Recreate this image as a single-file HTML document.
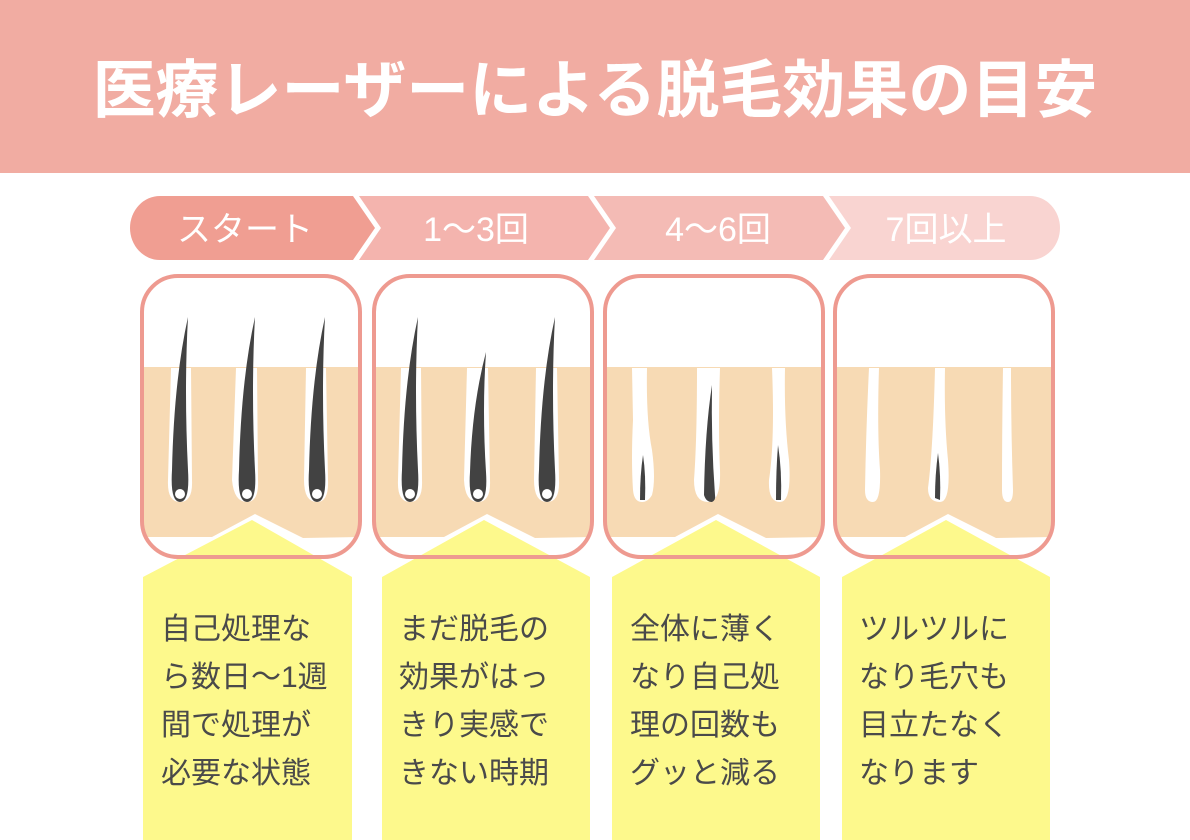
<!DOCTYPE html>
<html><head><meta charset="utf-8"><style>
html,body{margin:0;padding:0;background:#fff;}
svg{display:block;font-family:"Liberation Sans","Noto Sans CJK JP",sans-serif;}
</style></head><body>
<svg width="1190" height="840" viewBox="0 0 1190 840" xmlns="http://www.w3.org/2000/svg">
<defs>
<clipPath id="c1"><rect x="142" y="276" width="218" height="281" rx="36"/></clipPath>
<clipPath id="c2"><rect x="374" y="276" width="218" height="281" rx="36"/></clipPath>
<clipPath id="c3"><rect x="605" y="276" width="218" height="281" rx="36"/></clipPath>
<clipPath id="c4"><rect x="835" y="276" width="218" height="281" rx="36"/></clipPath>
</defs>
<rect x="0" y="0" width="1190" height="173" fill="#F1ACA2"/>
<text x="595" y="112" text-anchor="middle" font-size="63" font-weight="bold" fill="#fff">医療レーザーによる脱毛効果の目安</text>

<!-- steps -->
<path d="M1030,196 L829,196 L851,228 L829,260 L1030,260 A30,32 0 0 0 1030,196 Z" fill="#F9D4D1"/>
<path d="M823,196 L594,196 L616,228 L594,260 L823,260 L845,228 Z" fill="#F4BBB5"/>
<path d="M588,196 L359,196 L381,228 L359,260 L588,260 L610,228 Z" fill="#F4B4AE"/>
<path d="M160,196 L353,196 L375,228 L353,260 L160,260 A30,32 0 0 1 160,196 Z" fill="#F09E92"/>
<g fill="#fff" font-size="34" text-anchor="middle">
<text x="245" y="241">スタート</text>
<text x="476" y="241">1〜3回</text>
<text x="718" y="241">4〜6回</text>
<text x="946" y="241">7回以上</text>
</g>

<!-- yellow -->
<g fill="#FDF98C">
<polygon points="143,577 252,520 352,577 352,840 143,840"/>
<polygon points="382,577 484,520 590,577 590,840 382,840"/>
<polygon points="612,577 716,520 820,577 820,840 612,840"/>
<polygon points="842,577 946,520 1050,577 1050,840 842,840"/>
</g>

<!-- card 1 -->
<g clip-path="url(#c1)">
<polygon points="140,367 362,367 362,537 303,538 255,514 212,537 140,537" fill="#F7DAB4"/>
<g fill="#fff">
<path d="M171,368 L191,368 L192,480 Q193,502 180,502 Q167,502 168,480 Z"/>
<path d="M236,368 L257,368 L258,480 Q259,502 247,502 Q234,502 232,480 Z"/>
<path d="M306,368 L326,368 L328,480 Q329,502 317,502 Q304,502 304,480 Z"/>
</g>
</g>
<!-- card 2 -->
<g clip-path="url(#c2)">
<polygon points="372,367 594,367 594,537 535,538 487,514 444,537 372,537" fill="#F7DAB4"/>
<g fill="#fff">
<path d="M401,368 L421,368 L422,480 Q423,502 410,502 Q397,502 398,480 Z"/>
<path d="M467,368 L488,368 L490,480 Q491,502 478,502 Q465,502 464,480 Z"/>
<path d="M536,368 L557,368 L559,480 Q560,502 547,502 Q534,502 534,480 Z"/>
</g>
</g>
<!-- card 3 -->
<g clip-path="url(#c3)">
<polygon points="603,367 825,367 825,537 766,538 718,514 675,537 603,537" fill="#F7DAB4"/>
<g fill="#fff">
<path d="M632,368 L647,368 Q646,420 652,450 Q656,480 652,495 Q648,502 642,502 Q634,502 633,490 Q631,460 633,420 Z"/>
<path d="M697,368 L720,368 Q718,430 720,470 Q721,502 708,502 Q694,502 694,480 Q697,440 697,368 Z"/>
<path d="M772,368 L785,368 Q784,420 789,460 Q792,502 780,502 Q768,502 769,480 Q775,440 772,368 Z"/>
</g>
</g>
<!-- card 4 -->
<g clip-path="url(#c4)">
<polygon points="833,367 1055,367 1055,537 996,538 948,514 905,537 833,537" fill="#F7DAB4"/>
<g fill="#fff">
<path d="M869,368 L879,368 Q877,430 880,470 Q881,502 873,502 Q865,502 865,490 Q866,430 869,368 Z"/>
<path d="M935,368 L945,368 Q944,420 948,460 Q951,502 940,502 Q928,502 928,488 Q933,450 935,368 Z"/>
<path d="M1003,368 L1011,368 Q1011,430 1013,490 Q1013,502 1008,502 Q1002,502 1002,490 Q1002,430 1003,368 Z"/>
</g>
</g>

<!-- hair -->
<g fill="#424242">
<path d="M188,317 Q174,380 172,470 Q170,502 180,502 Q190,502 188,470 Q184,390 188,317 Z"/>
<path d="M255,317 Q241,380 239,470 Q237,502 247,502 Q257,502 255,470 Q251,390 255,317 Z"/>
<path d="M325,317 Q311,380 309,470 Q307,502 317,502 Q327,502 325,470 Q321,390 325,317 Z"/>
<path d="M418,317 Q404,380 402,470 Q400,502 410,502 Q420,502 418,470 Q414,390 418,317 Z"/>
<path d="M486,352 Q472,405 470,472 Q468,502 478,502 Q488,502 486,472 Q482,410 486,352 Z"/>
<path d="M555,317 Q541,380 539,470 Q537,502 547,502 Q557,502 555,470 Q551,390 555,317 Z"/>
<path d="M643,455 Q640,475 640,500 L645,500 Q646,475 643,455 Z"/>
<path d="M712,385 Q705,430 704,495 Q706,502 712,502 Q716,500 715,495 Q711,440 712,385 Z"/>
<path d="M778,445 Q776,470 776,500 L781,500 Q782,470 778,445 Z"/>
<path d="M938,453 Q935,475 935,498 L940,500 Q941,475 938,453 Z"/>
</g>
<g fill="#fff">
<circle cx="180" cy="494" r="5"/><circle cx="247" cy="494" r="5"/><circle cx="317" cy="494" r="5"/>
<circle cx="410" cy="494" r="5"/><circle cx="478" cy="494" r="5"/><circle cx="547" cy="494" r="5"/>
</g>

<!-- card borders -->
<g fill="none" stroke="#EE9A90" stroke-width="4">
<rect x="142" y="276" width="218" height="281" rx="36"/>
<rect x="374" y="276" width="218" height="281" rx="36"/>
<rect x="605" y="276" width="218" height="281" rx="36"/>
<rect x="835" y="276" width="218" height="281" rx="36"/>
</g>

<!-- text -->
<g fill="#4a4a4a" font-size="30">
<text x="161" y="639">自己処理な</text>
<text x="161" y="687">ら数日〜1週</text>
<text x="161" y="735">間で処理が</text>
<text x="161" y="783">必要な状態</text>
<text x="399" y="639">まだ脱毛の</text>
<text x="399" y="687">効果がはっ</text>
<text x="399" y="735">きり実感で</text>
<text x="399" y="783">きない時期</text>
<text x="630" y="639">全体に薄く</text>
<text x="630" y="687">なり自己処</text>
<text x="630" y="735">理の回数も</text>
<text x="630" y="783">グッと減る</text>
<text x="859" y="639">ツルツルに</text>
<text x="859" y="687">なり毛穴も</text>
<text x="859" y="735">目立たなく</text>
<text x="859" y="783">なります</text>
</g>
</svg>
</body></html>
